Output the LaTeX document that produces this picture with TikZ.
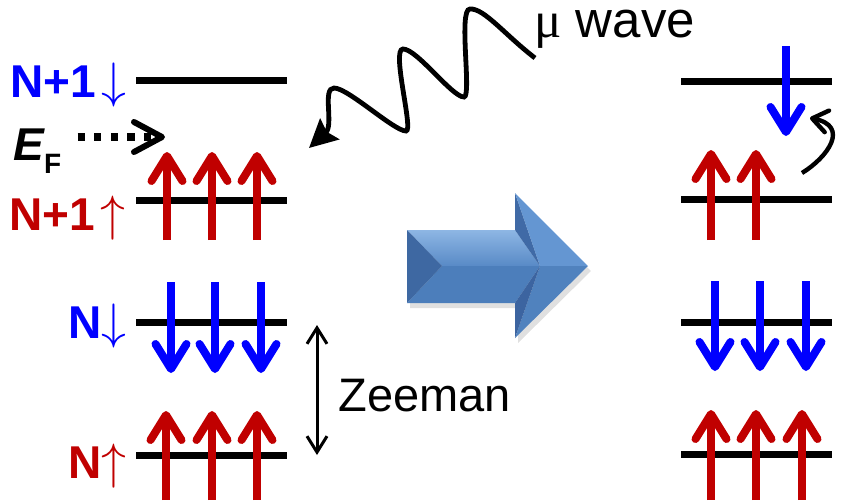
\documentclass[tikz,border=0pt]{standalone}
\usepackage{fontspec}
\setmainfont{Liberation Sans}
\newfontfamily\mufont{Liberation Serif}
\usetikzlibrary{arrows.meta, positioning, calc}
\usepackage{xcolor}
\definecolor{spinblue}{RGB}{0,0,255}
\definecolor{spinred}{RGB}{192,0,0}
\definecolor{bigtopA}{RGB}{142,182,228}
\definecolor{bigtopB}{RGB}{88,138,198}
\definecolor{bigbot}{RGB}{76,126,187}
\definecolor{bigleft}{RGB}{62,104,162}
\definecolor{headul}{RGB}{64,106,166}
\definecolor{headur}{RGB}{100,150,210}
\definecolor{headlr}{RGB}{80,130,190}
\definecolor{headll}{RGB}{60,100,160}
\tikzstyle{level} = [line width=3.5pt, black]
\tikzstyle{spinup} = [line width=4pt, spinred, -{Straight Barb[length=12.5pt, width=15.5pt, round]}]
\tikzstyle{spindown} = [line width=4pt, spinblue, -{Straight Barb[length=12.5pt, width=15.5pt, round]}]
\tikzstyle{lbl} = [inner sep=0pt, anchor=base west, font=\fontsize{23}{23}\selectfont\bfseries]
\tikzstyle{fermi} = [line width=3.6pt, dash pattern=on 3.6pt off 4.7pt,
    -{Straight Barb[length=14pt, width=15pt, line width=3pt, round]}]
\tikzstyle{wave} = [line width=2.4pt, -{Stealth[length=14pt, width=14pt, inset=2pt]}]
\tikzstyle{zee} = [line width=1.5pt, {Straight Barb[length=8pt, width=10pt]}-{Straight Barb[length=8pt, width=10pt]}]
\tikzstyle{hop} = [line width=2.2pt, -{Straight Barb[length=7.5pt, width=11pt, round]}]

\begin{document}
\begin{tikzpicture}[x=0.5pt, y=-0.5pt]
\useasboundingbox (0,0) rectangle (843,504);

% levels, before
\draw[level] (136,80) -- (287,80);
\draw[level] (136,200) -- (287,200);
\draw[level] (136,322) -- (287,322);
\draw[level] (136,455) -- (287,455);
% levels, after
\draw[level] (681,81) -- (832,81);
\draw[level] (681,199) -- (832,199);
\draw[level] (681,322) -- (832,322);
\draw[level] (681,454) -- (832,454);

\node (np1dn) [lbl, spinblue] at (10,97) {N+1\hspace{2.5pt}$\downarrow$};
\node (np1up) [lbl, spinred] at (9,230) {N+1\hspace{2.5pt}$\uparrow$};
\node (ndn) [lbl, spinblue] at (68,338) {N$\downarrow$};
\node (nup) [lbl, spinred] at (68,478) {N$\uparrow$};
\node (EF) [lbl] at (13,160) {\itshape E\upshape\raisebox{-6.5pt}{\fontsize{14}{14}\selectfont F}};
\coordinate (fermi) at (165,137);
\draw[fermi] ($(EF.east |- fermi)+(16,0)$) -- (fermi);

% spins, before
\draw[spinup] (167,240) -- (167,152);
\draw[spinup] (212,240) -- (212,152);
\draw[spinup] (257,240) -- (257,152);
\draw[spindown] (171,282) -- (171,373);
\draw[spindown] (215,282) -- (215,373);
\draw[spindown] (261,282) -- (261,373);
\draw[spinup] (166,500) -- (166,411);
\draw[spinup] (212,500) -- (212,411);
\draw[spinup] (257,500) -- (257,411);
% spins, after
\draw[spindown] (786,46) -- (786,136);
\draw[spinup] (711,240) -- (711,150);
\draw[spinup] (756,240) -- (756,150);
\draw[spindown] (715,281) -- (715,371);
\draw[spindown] (760,281) -- (760,371);
\draw[spindown] (806,281) -- (806,371);
\draw[spinup] (711,500) -- (711,410);
\draw[spinup] (756,500) -- (756,410);
\draw[spinup] (802,500) -- (802,410);

% flip
\coordinate (flipfrom) at (802,173);
\coordinate (flipto) at (810,118);
\draw[hop] (flipfrom) .. controls (828,157) and (850,126) .. (flipto);

% microwave
\node (mw) [lbl, font=\fontsize{25.5}{25.5}\selectfont] at (534,37) {{\mufont μ} wave};
\coordinate (mwend) at (535,58);
\coordinate (mwtip) at (309,148);
\draw[wave] (mwend) .. controls (505,35) and (484,8) .. (470,9)
  .. controls (458,9) and (472,97) .. (464,97)
  .. controls (452,97) and (417,49) .. (403,49)
  .. controls (391,49) and (414,131) .. (406,131)
  .. controls (394,131) and (348,88) .. (334,88)
  .. controls (322,88) and (334,125) .. (mwtip);

% zeeman
\coordinate (zup) at (317,325);
\coordinate (zlo) at (317,455);
\draw[zee] (zlo) -- (zup);
\node (zeeman) [lbl, font=\fontsize{23.5}{23.5}\selectfont] at (338,411) {Zeeman};

% big arrow
\coordinate (A) at (407,230);
\coordinate (B) at (515,230);
\coordinate (C) at (515,193);
\coordinate (D) at (588,266);
\coordinate (E) at (515,338);
\coordinate (F) at (515,303);
\coordinate (G) at (407,303);
\coordinate (Lm) at (442,266);
\coordinate (Hm) at (540,266);
\fill[black, opacity=0.12] ($(A)+(3,5)$) -- ($(B)+(3,5)$) -- ($(C)+(3,5)$) -- ($(D)+(3,5)$)
  -- ($(E)+(3,5)$) -- ($(F)+(3,5)$) -- ($(G)+(3,5)$) -- cycle;
\shade[top color=bigtopA, bottom color=bigtopB] (A) -- (B) -- (Hm) -- (Lm) -- cycle;
\fill[bigbot] (G) -- (F) -- (Hm) -- (Lm) -- cycle;
\fill[bigleft] (A) -- (Lm) -- (G) -- cycle;
\fill[headul] (B) -- (C) -- (Hm) -- cycle;
\fill[headur] (C) -- (D) -- (Hm) -- cycle;
\fill[headlr] (D) -- (E) -- (Hm) -- cycle;
\fill[headll] (E) -- (F) -- (Hm) -- cycle;
\end{tikzpicture}
\end{document}
